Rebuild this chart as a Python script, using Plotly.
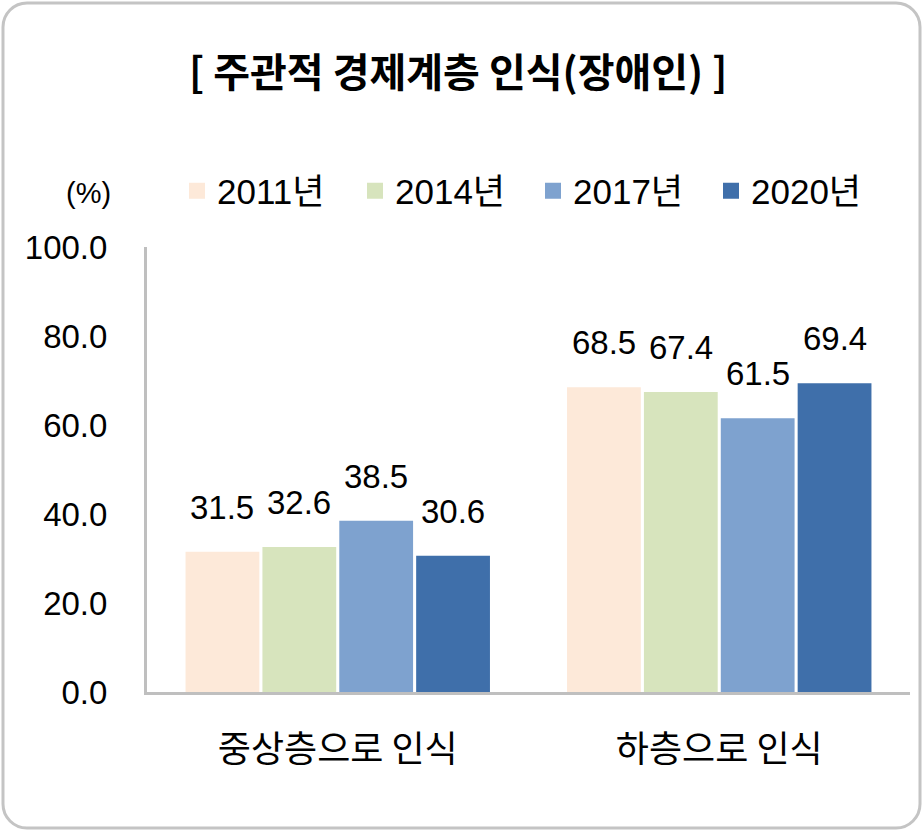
import plotly.graph_objects as go

categories = ["중상층으로 인식", "하층으로 인식"]
series_names = ["2011년", "2014년", "2017년", "2020년"]
values_2011 = [31.5, 68.5]
values_2014 = [32.6, 67.4]
values_2017 = [38.5, 61.5]
values_2020 = [30.6, 69.4]
y_ticks = [0, 20, 40, 60, 80, 100]

series_values = [values_2011, values_2014, values_2017, values_2020]
colors = ["#FDE9D9", "#D7E4BD", "#7EA2CF", "#3F6FAA"]

NUM_FONT = "Liberation Sans, Arial, Noto Sans CJK KR, sans-serif"
KR_FONT = "Noto Sans CJK KR, Malgun Gothic, sans-serif"

W, H = 923, 831
L, R, T, B = 147, 13, 247, 139
PW, PH = W - L - R, H - T - B

def px(x):
    return (x - L) / PW

def py(y):
    return (H - B - y) / PH

bargap = 0.194
bargroupgap = 0.04

fig = go.Figure()
for name, vals, col in zip(series_names, series_values, colors):
    fig.add_trace(go.Bar(
        x=categories, y=vals, name=name, marker_color=col,
        marker_line_width=0, showlegend=False,
    ))
# legend entries with larger square markers
for name, col in zip(series_names, colors):
    fig.add_trace(go.Scatter(
        x=[None], y=[None], mode="markers", name=name,
        marker=dict(symbol="square", size=19, color=col),
        showlegend=True,
    ))

annotations = []
slot = (1 - bargap) / len(series_names)
for k, vals in enumerate(series_values):
    for i, v in enumerate(vals):
        annotations.append(dict(
            x=i + (k - 1.5) * slot, y=v, xref="x", yref="y",
            text=f"{v:.1f}", showarrow=False, yanchor="bottom",
            yshift=24, font=dict(family=NUM_FONT, size=33, color="#000"),
        ))

annotations.append(dict(
    x=px(458), y=py(70), xref="paper", yref="paper",
    text="<b>[ 주관적 경제계층 인식(장애인) ]</b>", showarrow=False,
    xanchor="center", yanchor="middle",
    font=dict(family=KR_FONT, size=40, color="#000"),
))
annotations.append(dict(
    x=px(88), y=py(193), xref="paper", yref="paper",
    text="(%)", showarrow=False, xanchor="center", yanchor="middle",
    font=dict(family=NUM_FONT, size=29, color="#000"),
))

# rounded border around the whole picture
bx0, by0, bx1, by1, rad = 3, 3, 920, 828, 24
k = 0.5523 * rad
def P(x, y):
    return f"{px(x):.5f},{py(y):.5f}"
path = (
    f"M {P(bx0 + rad, by0)} L {P(bx1 - rad, by0)} "
    f"C {P(bx1 - rad + k, by0)} {P(bx1, by0 + rad - k)} {P(bx1, by0 + rad)} "
    f"L {P(bx1, by1 - rad)} "
    f"C {P(bx1, by1 - rad + k)} {P(bx1 - rad + k, by1)} {P(bx1 - rad, by1)} "
    f"L {P(bx0 + rad, by1)} "
    f"C {P(bx0 + rad - k, by1)} {P(bx0, by1 - rad + k)} {P(bx0, by1 - rad)} "
    f"L {P(bx0, by0 + rad)} "
    f"C {P(bx0, by0 + rad - k)} {P(bx0 + rad - k, by0)} {P(bx0 + rad, by0)} Z"
)

fig.update_layout(
    width=W, height=H,
    margin=dict(l=L, r=R, t=T, b=B, autoexpand=False),
    paper_bgcolor="white", plot_bgcolor="white",
    barmode="group", bargap=bargap, bargroupgap=bargroupgap,
    annotations=annotations,
    shapes=[dict(type="path", path=path, xref="paper", yref="paper",
                 line=dict(color="#C4C4C4", width=3), layer="below")],
    legend=dict(
        orientation="h", x=px(177), y=py(191), xanchor="left", yanchor="middle",
        font=dict(family=NUM_FONT, size=35, color="#000"),
        entrywidth=133, entrywidthmode="pixels",
        itemclick=False, bgcolor="rgba(0,0,0,0)",
    ),
    xaxis=dict(
        showline=True, linecolor="#BFBFBF", linewidth=3,
        showgrid=False, zeroline=False, ticks="", automargin=False,
        tickfont=dict(family=KR_FONT, size=36, color="#000"),
        ticklabelstandoff=24,
    ),
    yaxis=dict(
        range=[0, 100], tickvals=y_ticks, tickformat=".1f",
        showline=True, linecolor="#BFBFBF", linewidth=3,
        showgrid=False, zeroline=False, ticks="", automargin=False,
        tickfont=dict(family=NUM_FONT, size=33, color="#000"),
        ticklabelstandoff=30,
    ),
)

fig.write_html("out.html", post_script="document.body.style.margin='0';",
               config={"displayModeBar": False})
